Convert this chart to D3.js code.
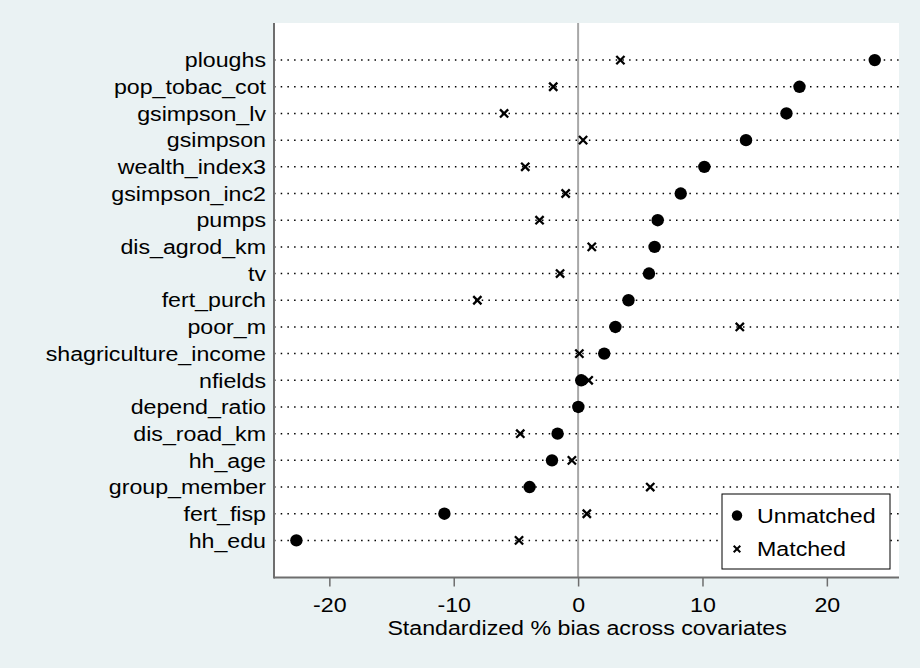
<!DOCTYPE html>
<html>
<head>
<meta charset="utf-8">
<script src="https://cdn.jsdelivr.net/npm/d3@7"></script>
<style>
  body { margin: 0; background: #eaf2f3; }
  text { font-family: "Liberation Sans", Arial, sans-serif; fill: #000; }
</style>
</head>
<body>
<svg id="chart"></svg>
<script>
// covariates, top to bottom
const covariates = ["ploughs", "pop_tobac_cot", "gsimpson_lv", "gsimpson", "wealth_index3",
  "gsimpson_inc2", "pumps", "dis_agrod_km", "tv", "fert_purch", "poor_m",
  "shagriculture_income", "nfields", "depend_ratio", "dis_road_km", "hh_age",
  "group_member", "fert_fisp", "hh_edu"];
const unmatched = [23.85, 17.8, 16.75, 13.5, 10.15, 8.25, 6.4, 6.15, 5.7, 4.05, 3.0,
  2.1, 0.25, 0.02, -1.65, -2.1, -3.9, -10.75, -22.65];
const matched = [3.4, -2.0, -5.95, 0.4, -4.25, -1.0, -3.1, 1.1, -1.45, -8.1, 13.0,
  0.1, 0.85, 0.0, -4.65, -0.5, 5.8, 0.7, -4.75];
const xTicks = [-20, -10, 0, 10, 20];

const width = 920, height = 668;
const plot = { left: 274, right: 899, top: 23, bottom: 577.5 };
const sx = 1.16; // text is a bit wide in the original

const svg = d3.select("#chart")
  .attr("width", width)
  .attr("height", height)
  .style("background-color", "#eaf2f3");

const x = d3.scaleLinear().domain([-24.45, 25.8]).range([plot.left, plot.right]);
const y = d3.scalePoint().domain(covariates).range([plot.top, plot.bottom]).padding(1.39);

svg.append("rect")
  .attr("x", plot.left).attr("y", plot.top)
  .attr("width", plot.right - plot.left).attr("height", plot.bottom - plot.top)
  .attr("fill", "#fff");

// dotted row guides
svg.selectAll(".guide")
  .data(covariates)
  .enter().append("line")
  .attr("class", "guide")
  .attr("x1", plot.left).attr("x2", plot.right)
  .attr("y1", d => y(d)).attr("y2", d => y(d))
  .attr("stroke", "#000")
  .attr("stroke-width", 1.5)
  .attr("stroke-dasharray", "1.5 5.2");

// zero reference line
svg.append("line")
  .attr("x1", x(0)).attr("x2", x(0))
  .attr("y1", plot.top).attr("y2", plot.bottom)
  .attr("stroke", "#a8a8a8").attr("stroke-width", 2);

// y labels
svg.selectAll(".ylab")
  .data(covariates)
  .enter().append("text")
  .attr("class", "ylab")
  .attr("transform", d => `translate(266, ${y(d)}) scale(${sx},1)`)
  .attr("text-anchor", "end")
  .attr("dy", "0.36em")
  .style("font-size", "20px")
  .text(d => d);

// axes lines
svg.append("line")
  .attr("x1", plot.left).attr("x2", plot.left)
  .attr("y1", plot.top).attr("y2", plot.bottom + 1)
  .attr("stroke", "#6e6e6e").attr("stroke-width", 2);

const xAxis = d3.axisBottom(x).tickValues(xTicks).tickSize(9).tickPadding(11)
  .tickFormat(d => String(d));
const gx = svg.append("g")
  .attr("transform", `translate(0, ${plot.bottom})`)
  .call(xAxis);
gx.select(".domain")
  .attr("d", `M${plot.left},0H${plot.right}`)
  .attr("stroke", "#6e6e6e").attr("stroke-width", 2);
gx.selectAll(".tick line").attr("stroke", "#6e6e6e").attr("stroke-width", 1.5);
gx.selectAll(".tick text")
  .attr("fill", "#000")
  .style("font-size", "20px")
  .style("font-family", "Liberation Sans, Arial, sans-serif")
  .attr("transform", `scale(${sx},1)`);

svg.append("text")
  .attr("transform", `translate(${x(0) + 9}, 635) scale(${sx},1)`)
  .attr("text-anchor", "middle")
  .style("font-size", "20px")
  .text("Standardized % bias across covariates");

// matched crosses
const cross = r => `M${-r},${-r}L${r},${r}M${-r},${r}L${r},${-r}`;
svg.selectAll(".matched")
  .data(matched)
  .enter().append("path")
  .attr("class", "matched")
  .attr("transform", (d, i) => `translate(${x(d)}, ${y(covariates[i])})`)
  .attr("d", cross(4.1))
  .attr("stroke", "#000").attr("stroke-width", 2.3).attr("fill", "none");

// unmatched dots
svg.selectAll(".unmatched")
  .data(unmatched)
  .enter().append("circle")
  .attr("class", "unmatched")
  .attr("cx", d => x(d))
  .attr("cy", (d, i) => y(covariates[i]))
  .attr("r", 6.2)
  .attr("fill", "#000");

// legend
const lg = svg.append("g").attr("transform", "translate(722, 494)");
lg.append("rect")
  .attr("width", 168).attr("height", 75)
  .attr("fill", "#fff").attr("stroke", "#000").attr("stroke-width", 1);
lg.append("circle").attr("cx", 15).attr("cy", 21.5).attr("r", 5.2).attr("fill", "#000");
lg.append("path").attr("transform", "translate(15, 55)").attr("d", cross(3.3))
  .attr("stroke", "#000").attr("stroke-width", 2).attr("fill", "none");
lg.append("text").attr("transform", `translate(35, 22) scale(${sx},1)`)
  .attr("dy", "0.36em").style("font-size", "20px").text("Unmatched");
lg.append("text").attr("transform", `translate(35, 55) scale(${sx},1)`)
  .attr("dy", "0.36em").style("font-size", "20px").text("Matched");
</script>
</body>
</html>
